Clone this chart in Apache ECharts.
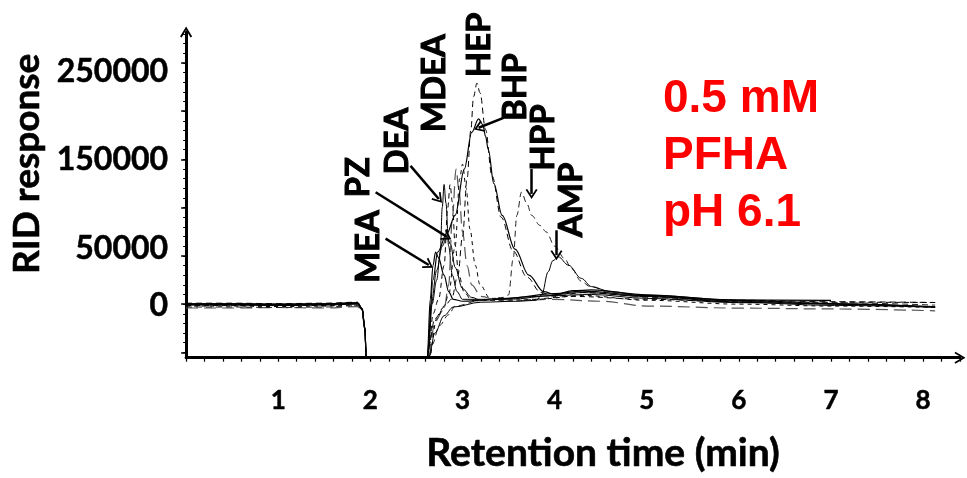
<!DOCTYPE html>
<html>
<head>
<meta charset="utf-8">
<title>RID response</title>
<script src="https://cdn.jsdelivr.net/npm/echarts@6.0.0/dist/echarts.min.js"></script>
<style>
  html, body { margin: 0; padding: 0; background: #fff; }
  #chart { width: 967px; height: 478px; }
</style>
</head>
<body>
<div id="chart"></div>
<script>
// tick positions and labels
var xTickValues = [0, 0.2, 0.4, 0.6, 0.8, 1, 1.2, 1.4, 1.6, 1.8, 2, 2.2, 2.4, 2.6, 2.8, 3, 3.2, 3.4, 3.6, 3.8,
  4, 4.2, 4.4, 4.6, 4.8, 5, 5.2, 5.4, 5.6, 5.8, 6, 6.2, 6.4, 6.6, 6.8, 7, 7.2, 7.4, 7.6, 7.8, 8, 8.2, 8.4];
var xLabelValues = [1, 2, 3, 4, 5, 6, 7, 8];
var yMajorTicks = [-50000, 0, 50000, 100000, 150000, 200000, 250000];
var yMinorTicks = [-50000, -40000, -30000, -20000, -10000, 0, 10000, 20000, 30000, 40000, 50000, 60000, 70000,
  80000, 90000, 100000, 110000, 120000, 130000, 140000, 150000, 160000, 170000, 180000, 190000, 200000,
  210000, 220000, 230000, 240000, 250000, 260000, 270000, 280000];
var yLabelValues = [0, 50000, 150000, 250000];

// chromatograms, [retention time (min), RID response]
var mea = [[0, 0], [0.5, 0], [1.0, -500], [1.5, 0], [1.86, 1000], [1.91, -5000], [1.94, -25000], [1.955, -55000],
  [1.97, -150000], [2.6, -150000], [2.62, -50000], [2.65, 5000], [2.68, 40000], [2.707, 54000], [2.74, 48000],
  [2.8, 30000], [2.85, 13000], [2.9, 5000], [3.0, 3000], [3.5, 6000], [4.0, 11000], [4.3, 13500], [5.0, 9000],
  [6.0, 4000], [7.0, 500], [8.13, -3100]];
var pz = [[0, 500], [0.5, 500], [1.0, 0], [1.5, 500], [1.86, 1500], [1.91, -4000], [1.94, -24000], [1.955, -55000],
  [1.97, -150000], [2.6, -150000], [2.625, -50000], [2.66, 0], [2.72, 35000], [2.78, 60000], [2.83, 70000],
  [2.87, 62000], [2.92, 38000], [3.0, 16000], [3.1, 7000], [3.2, 4000], [3.8, 8000], [4.3, 12000], [5.0, 8000],
  [6.0, 3000], [7.0, 0], [8.13, -2500]];
var dea = [[0, -1000], [0.5, -1000], [1.0, -1500], [1.5, -1000], [1.86, 0], [1.91, -6000], [1.94, -26000],
  [1.955, -55000], [1.97, -150000], [2.6, -150000], [2.63, -50000], [2.67, 0], [2.72, 25000], [2.76, 55000],
  [2.78, 100000], [2.8, 124000], [2.82, 105000], [2.85, 60000], [2.89, 30000], [2.94, 13000], [3.0, 5000],
  [3.5, 5000], [4.0, 9000], [4.4, 10000], [5.0, 6000], [6.0, 1500], [8.13, -3000]];
var mdea = [[0, -1500], [0.5, -1500], [1.0, -1000], [1.5, -1500], [1.86, 500], [1.91, -5000], [1.94, -25000],
  [1.955, -55000], [1.97, -150000], [2.6, -150000], [2.63, -60000], [2.68, -10000], [2.74, 5000], [2.8, 40000],
  [2.84, 100000], [2.865, 124000], [2.89, 106000], [2.92, 61000], [2.96, 30000], [3.02, 12000], [3.1, 4000],
  [3.6, 4000], [4.2, 8000], [5.0, 5000], [6.0, 2500], [7.0, 2000], [8.13, 1700]];
var amine5 = [[0, -4000], [0.5, -4000], [1.0, -3500], [1.5, -4000], [1.86, -2500], [1.91, -7000], [1.94, -27000],
  [1.955, -55000], [1.97, -150000], [2.6, -150000], [2.64, -50000], [2.7, -18000], [2.8, -5000], [2.85, 20000],
  [2.89, 90000], [2.93, 140000], [2.96, 120000], [3.0, 75000], [3.05, 40000], [3.1, 20000], [3.2, 8000],
  [3.4, 3000], [4.0, 5000], [4.5, 3000], [5.0, -2000], [6.0, -4100], [7.0, -5000], [8.13, -6900]];
var amine6 = [[0, -2000], [0.5, -2000], [1.0, -2500], [1.5, -2000], [1.86, -1000], [1.91, -6000], [1.94, -26000],
  [1.955, -55000], [1.97, -150000], [2.6, -150000], [2.64, -55000], [2.72, -15000], [2.8, -2000], [2.85, 10000],
  [2.92, 60000], [2.97, 130000], [3.0, 145000], [3.04, 120000], [3.08, 78000], [3.14, 40000], [3.19, 20000],
  [3.3, 6000], [3.8, 5000], [4.3, 9000], [5.0, 4000], [6.0, 0], [7.0, -2000], [8.13, -3400]];
var hep = [[0, 1000], [0.5, 1000], [1.0, 500], [1.5, 1000], [1.86, 2000], [1.91, -4000], [1.94, -24000],
  [1.955, -55000], [1.97, -150000], [2.6, -150000], [2.63, -45000], [2.7, -15000], [2.8, -3000], [2.88, 5000],
  [2.95, 30000], [3.0, 70000], [3.05, 130000], [3.09, 180000], [3.12, 215000], [3.157, 229000], [3.19, 219000],
  [3.25, 181000], [3.32, 133000], [3.42, 90000], [3.55, 55000], [3.7, 28000], [3.85, 12000], [4.0, 8000],
  [4.3, 12000], [5.0, 8000], [6.0, 4000], [7.0, 2500], [8.13, 1700]];
var bhp = [[0, 0], [0.5, 0], [1.0, 0], [1.5, 0], [1.86, 1000], [1.91, -5000], [1.94, -25000], [1.955, -55000],
  [1.97, -150000], [2.6, -150000], [2.63, -40000], [2.68, 25000], [2.73, 54000], [2.83, 73000], [2.92, 92000],
  [3.02, 140000], [3.1, 178000], [3.175, 192000], [3.22, 186000], [3.25, 174000], [3.28, 160000],
  [3.34, 125000], [3.43, 92000], [3.57, 57000], [3.72, 30000], [3.88, 13000], [4.0, 10000], [4.2, 14000],
  [4.4, 14700], [5.0, 9600], [5.9, 4400], [7.0, 3800]];
var hpp = [[0, -3000], [0.5, -3000], [1.0, -3500], [1.5, -3000], [1.86, -1500], [1.91, -6000], [1.94, -26000],
  [1.955, -55000], [1.97, -150000], [2.6, -150000], [2.64, -60000], [2.67, -42000], [2.75, -22000],
  [2.85, -11000], [2.92, -2000], [3.2, 4000], [3.45, 7000], [3.5, 9600], [3.55, 47000], [3.59, 92000],
  [3.64, 116000], [3.7, 104000], [3.75, 92000], [3.84, 81600], [3.91, 74800], [4.0, 60000], [4.11, 47000],
  [4.18, 37000], [4.29, 23700], [4.38, 18500], [4.6, 12000], [5.0, 7000], [6.0, 2500], [7.0, 1500], [8.13, -1000]];
var amp = [[0, -500], [0.5, -500], [1.0, -1000], [1.5, -500], [1.86, 500], [1.91, -5000], [1.94, -25000],
  [1.955, -55000], [1.97, -150000], [2.6, -150000], [2.635, -55000], [2.7, -30000], [2.8, -12000], [2.9, -3000],
  [3.2, 2000], [3.6, 3000], [3.8, 4000], [3.86, 9600], [3.93, 33600], [3.98, 45000], [4.04, 49000],
  [4.15, 40400], [4.29, 26700], [4.4, 18200], [4.6, 13000], [5.0, 8000], [6.0, 2000], [7.0, -1300], [8.13, -3100]];

// peak names and their arrows
var peakLabels = [[1.976, 59700, 'MEA'], [1.87, 131400, 'PZ'], [2.29, 169000, 'DEA'], [2.69, 229000, 'MDEA'],
  [3.18, 268600, 'HEP'], [3.57, 224800, 'BHP'], [3.88, 172600, 'HPP'], [4.18, 108000, 'AMP']];
var peakArrows = [
  [[2.165, 67900], [2.634, 40500]],
  [[2.057, 116000], [2.832, 69700]],
  [[2.436, 143300], [2.743, 109000]],
  [[3.445, 193100], [3.175, 182800]],
  [[3.75, 140000], [3.75, 114200]],
  [[4.02, 76500], [4.02, 50700]]
];

var chevron = 'path://M0,10 L6,0 L12,10 L10.4,10.9 L6,3.4 L1.6,10.9 Z';
var font = 'Lato';

function curve(name, data, type, color, width) {
  return {
    name: name,
    type: 'line',
    data: data,
    showSymbol: false,
    smooth: 0.35,
    smoothMonotone: 'x',
    clip: true,
    silent: true,
    lineStyle: { color: color, width: width, type: type }
  };
}

// y tick labels sit a little off their ticks in the original figure
function yLabelStyle(pad) {
  return {
    color: '#000', fontSize: 32, fontWeight: 'bold', fontFamily: font,
    textBorderColor: '#000', textBorderWidth: 0.5, padding: pad
  };
}

var chart = echarts.init(document.getElementById('chart'));

var option = {
  animation: false,
  backgroundColor: '#fff',
  title: {
    text: '0.5 mM\nPFHA\npH 6.1',
    left: 658,
    top: 66,
    textStyle: { color: '#ff0000', fontSize: 46, fontWeight: 'bold', fontFamily: 'Liberation Sans', lineHeight: 57 }
  },
  grid: { left: 183, right: 7, top: 32, bottom: 118 },
  xAxis: {
    type: 'value',
    min: 0,
    max: 8.4,
    name: 'Retention time (min)',
    nameLocation: 'middle',
    nameGap: 76,
    nameTextStyle: {
      color: '#000', fontSize: 39, fontWeight: 'bold', fontFamily: font,
      textBorderColor: '#000', textBorderWidth: 0.6, padding: [0, 0, 0, 60]
    },
    axisLine: { onZero: false, lineStyle: { color: '#000', width: 3 }, symbol: ['none', chevron], symbolSize: [14, 11] },
    axisTick: { show: true, customValues: xTickValues, length: 4, lineStyle: { color: '#000', width: 1.2 } },
    axisLabel: {
      customValues: xLabelValues, margin: 30, color: '#000', fontSize: 26, fontWeight: 'bold', fontFamily: font,
      textBorderColor: '#000', textBorderWidth: 0.5
    },
    splitLine: { show: false }
  },
  yAxis: [{
    type: 'value',
    min: -55500,
    max: 282000,
    name: 'RID response',
    nameLocation: 'middle',
    nameRotate: 90,
    nameGap: 140,
    nameTextStyle: {
      color: '#000', fontSize: 37, fontWeight: 'bold', fontFamily: font, padding: [0, 0, 0, 62],
      textBorderColor: '#000', textBorderWidth: 0.6
    },
    axisLine: { onZero: false, lineStyle: { color: '#000', width: 3 }, symbol: ['none', chevron], symbolSize: [14, 11] },
    axisTick: { show: true, customValues: yMajorTicks, length: 5, lineStyle: { color: '#000', width: 1.5 } },
    axisLabel: {
      customValues: yLabelValues, margin: 18, color: '#000', fontSize: 32, fontWeight: 'bold', fontFamily: font,
      textBorderColor: '#000', textBorderWidth: 0.5,
      formatter: function (v) {
        if (v === 250000) return '{d|' + v + '}';
        if (v === 50000) return '{u|' + v + '}';
        if (v === 0) return '{z|' + v + '}';
        return '{n|' + v + '}';
      },
      rich: {
        d: yLabelStyle([18, 0, 0, 0]),
        u: yLabelStyle([0, 0, 14, 0]),
        z: yLabelStyle([4, 0, 0, 0]),
        n: yLabelStyle(0)
      }
    },
    splitLine: { show: false }
  }, {
    type: 'value',
    min: -55500,
    max: 282000,
    position: 'left',
    axisLine: { show: false },
    axisTick: { show: true, customValues: yMinorTicks, length: 3, lineStyle: { color: '#000', width: 1 } },
    axisLabel: { show: false },
    splitLine: { show: false }
  }],
  series: [
    curve('MEA', mea, 'solid', '#000', 1.2),
    curve('PZ', pz, 'solid', '#000', 1),
    curve('DEA', dea, 'solid', '#000', 1),
    curve('MDEA', mdea, [5, 4], '#000', 1),
    curve('amine5', amine5, [12, 6], '#555', 1.2),
    curve('amine6', amine6, [4, 4], '#000', 1),
    curve('HEP', hep, [6, 4], '#000', 1),
    curve('BHP', bhp, 'solid', '#000', 1.2),
    curve('HPP', hpp, [6, 4], '#222', 1),
    curve('AMP', amp, 'solid', '#000', 1),
    {
      name: 'labels',
      type: 'scatter',
      data: peakLabels,
      symbolSize: 0,
      silent: true,
      itemStyle: { opacity: 1, color: '#000' },
      label: {
        show: true,
        position: 'inside',
        rotate: 90,
        align: 'center',
        verticalAlign: 'middle',
        formatter: function (p) { return p.data[2]; },
        color: '#000',
        opacity: 1,
        textBorderColor: '#000',
        textBorderWidth: 1,
        fontSize: 33,
        fontWeight: 'bold',
        fontFamily: font
      },
      markLine: {
        silent: true,
        symbol: ['none', chevron],
        symbolSize: [12, 10],
        label: { show: false },
        lineStyle: { color: '#000', width: 2.5, type: 'solid', opacity: 1 },
        data: peakArrows.map(function (a) { return [{ coord: a[0] }, { coord: a[1] }]; })
      }
    }
  ]
};

chart.setOption(option);
window.onresize = function () { chart.resize(); };
</script>
</body>
</html>
